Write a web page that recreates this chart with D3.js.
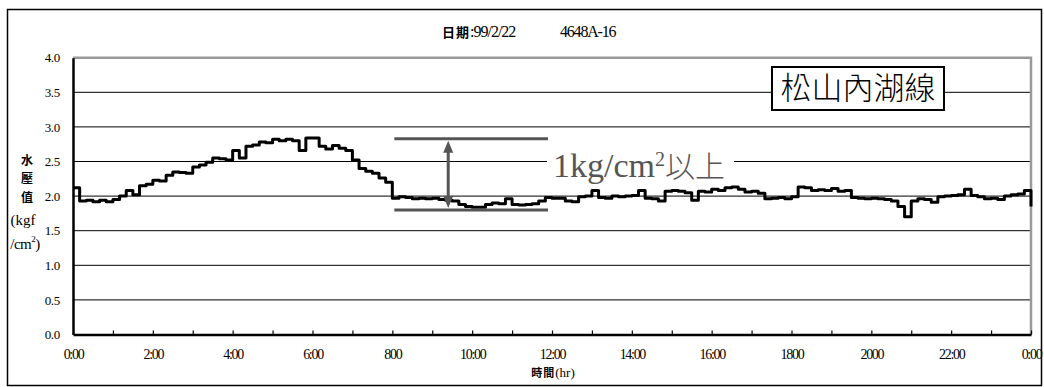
<!DOCTYPE html>
<html>
<head>
<meta charset="utf-8">
<script src="https://cdn.jsdelivr.net/npm/d3@7"></script>
<style>
  html, body { margin: 0; padding: 0; background: #fff; }
  svg { display: block; }
</style>
</head>
<body>
<div id="chart"><svg width="1044" height="387"></svg></div>
<script>
// pressure readings every 10 minutes, 0:00 -> 24:00
const PRESSURE = [
  2.12, 1.93, 1.94, 1.92, 1.94, 1.92, 1.95, 2.00, 2.08, 2.02,
  2.15, 2.17, 2.23, 2.22, 2.30, 2.35, 2.34, 2.33, 2.42, 2.45,
  2.49, 2.55, 2.54, 2.52, 2.66, 2.55, 2.72, 2.74, 2.78, 2.77,
  2.82, 2.80, 2.82, 2.80, 2.66, 2.84, 2.84, 2.72, 2.68, 2.73,
  2.69, 2.66, 2.52, 2.40, 2.36, 2.33, 2.26, 2.20, 1.97, 1.99,
  1.98, 1.96, 1.97, 1.96, 1.97, 1.95, 1.94, 1.93, 1.88, 1.85,
  1.84, 1.84, 1.88, 1.90, 1.89, 1.96, 1.88, 1.87, 1.88, 1.89,
  1.93, 1.98, 1.97, 1.97, 1.93, 1.92, 1.99, 2.00, 2.08, 1.98,
  1.97, 2.00, 1.99, 2.00, 2.01, 2.08, 1.97, 1.96, 1.93, 2.07,
  2.08, 2.07, 2.05, 1.94, 2.07, 2.06, 2.10, 2.08, 2.12, 2.13,
  2.10, 2.06, 2.07, 2.04, 1.96, 1.97, 1.98, 1.96, 1.99, 2.13,
  2.12, 2.08, 2.09, 2.08, 2.11, 2.07, 2.08, 1.98, 1.97, 1.96,
  1.97, 1.96, 1.95, 1.93, 1.85, 1.70, 1.93, 1.96, 1.95, 1.91,
  1.99, 2.00, 2.01, 2.02, 2.10, 2.01, 1.99, 1.96, 1.97, 1.95,
  2.00, 2.02, 2.03, 2.08, 1.85
];
const STEP_HOURS = 10 / 60;

const X_LABELS = ['0:00', '2:00', '4:00', '6:00', '800', '10:00', '12:00',
  '14:00', '16:00', '1800', '2000', '22:00', '0:00'];
const Y_TICKS = [0, 0.5, 1.0, 1.5, 2.0, 2.5, 3.0, 3.5, 4.0];

const TITLE_LABEL = '日期';
const TITLE_DATE = ':99/2/22';
const TITLE_ID = '4648A-16';
const LINE_NAME = '松山內湖線';
const Y_TITLE = ['水', '壓', '值', '(kgf'];
const X_TITLE = '時間';

// annotation: pressure drop band (hours, kgf/cm2)
const DROP_START = 8.05, DROP_END = 11.9, DROP_ARROW = 9.4;
const DROP_HIGH = 2.83, DROP_LOW = 1.80;

const data = PRESSURE.map((v, i) => ({ hour: i * STEP_HOURS, value: v }));

const SVG = d3.select('#chart svg');
const LEFT = 73, RIGHT = 1031, TOP = 57.7, BOTTOM = 334.5;
const SERIF = '"Liberation Serif", "Times New Roman", serif';
const CJK = '"Noto Sans CJK TC", sans-serif';

const X_SCALE = d3.scaleLinear().domain([0, 24]).range([LEFT, RIGHT]);
const Y_SCALE = d3.scaleLinear().domain([0, 4]).range([BOTTOM, TOP]);

// outer frame
SVG.append('rect')
  .attr('x', 7.5).attr('y', 9.5)
  .attr('width', 1034).attr('height', 376)
  .style('fill', 'none')
  .style('stroke', '#000')
  .style('stroke-width', 1.5);

// title
const TITLE = SVG.append('text')
  .attr('x', 442).attr('y', 37)
  .style('font-family', SERIF)
  .style('font-size', '16px')
  .style('letter-spacing', '-1px');
TITLE.append('tspan').text(TITLE_LABEL)
  .style('font-family', CJK)
  .style('font-weight', 'bold')
  .style('font-size', '13px')
  .style('letter-spacing', '1px');
TITLE.append('tspan').text(TITLE_DATE);
SVG.append('text')
  .attr('x', 560).attr('y', 37)
  .text(TITLE_ID)
  .style('font-family', SERIF)
  .style('font-size', '16px')
  .style('letter-spacing', '-1.2px');

// gridlines
SVG.append('g')
  .attr('id', 'grid')
  .selectAll('line')
  .data(Y_TICKS.filter(d => d > 0 && d < 4))
  .join('line')
  .attr('x1', LEFT).attr('x2', RIGHT)
  .attr('y1', d => Y_SCALE(d)).attr('y2', d => Y_SCALE(d))
  .style('stroke', '#000')
  .style('stroke-width', 1);

// plot frame (top and right, grey)
SVG.append('path')
  .attr('d', `M${LEFT},${Y_SCALE(4)}H${X_SCALE(24)}V${Y_SCALE(0)}`)
  .style('fill', 'none')
  .style('stroke', '#999')
  .style('stroke-width', 2.5);

// y axis
const Y_AXIS = d3.axisLeft(Y_SCALE)
  .tickValues(Y_TICKS)
  .tickFormat(d3.format('.1f'))
  .tickSize(0)
  .tickPadding(13);
const Y_AXIS_G = SVG.append('g')
  .attr('id', 'yAxis')
  .attr('transform', `translate(${LEFT},0)`);
Y_AXIS(Y_AXIS_G);
Y_AXIS_G.select('.domain').style('stroke', '#000').style('stroke-width', 2.5);
Y_AXIS_G.selectAll('text')
  .style('font-family', SERIF)
  .style('font-size', '13px')
  .style('letter-spacing', '-0.3px')
  .style('fill', '#000');

// x axis, hourly ticks pointing inward
const X_AXIS = d3.axisBottom(X_SCALE)
  .tickValues(d3.range(0, 25))
  .tickFormat(d => d % 2 === 0 ? X_LABELS[d / 2] : '')
  .tickSizeInner(-4)
  .tickSizeOuter(0)
  .tickPadding(15);
const X_AXIS_G = SVG.append('g')
  .attr('id', 'xAxis')
  .attr('transform', `translate(0,${BOTTOM})`);
X_AXIS(X_AXIS_G);
X_AXIS_G.select('.domain').style('stroke', '#000').style('stroke-width', 2.5);
X_AXIS_G.selectAll('.tick line').style('stroke', '#000').style('stroke-width', 1.2);
X_AXIS_G.selectAll('text')
  .style('font-family', SERIF)
  .style('font-size', '14px')
  .style('letter-spacing', '-1.3px')
  .style('fill', '#000');

// axis titles
SVG.append('g')
  .selectAll('text')
  .data(Y_TITLE)
  .join('text')
  .text(d => d)
  .attr('x', (d, i) => i < 3 ? 27 : 23)
  .attr('y', (d, i) => [165, 183, 202, 225][i])
  .style('text-anchor', 'middle')
  .style('font-family', (d, i) => i < 3 ? CJK : SERIF)
  .style('font-weight', (d, i) => i < 3 ? 'bold' : 'normal')
  .style('font-size', (d, i) => i < 3 ? '12px' : '15px');
const CM = SVG.append('text')
  .attr('x', 25).attr('y', 249)
  .style('text-anchor', 'middle')
  .style('font-family', SERIF)
  .style('font-size', '15px')
  .style('letter-spacing', '-0.5px');
CM.append('tspan').text('/cm');
CM.append('tspan').text('2').attr('dy', -7).style('font-size', '9px');
CM.append('tspan').text(')').attr('dy', 7);

const XT = SVG.append('text')
  .attr('x', 553).attr('y', 377)
  .style('text-anchor', 'middle')
  .style('font-family', CJK)
  .style('font-size', '11px');
XT.append('tspan').text(X_TITLE).style('font-weight', 'bold').style('letter-spacing', '1px');
XT.append('tspan').text('(hr)').style('font-family', SERIF).style('font-size', '13px');

// annotation text with white backing
SVG.append('rect')
  .attr('x', 547).attr('y', 149)
  .attr('width', 187).attr('height', 33)
  .style('fill', '#fff');
const NOTE = SVG.append('text')
  .attr('x', 553).attr('y', 177)
  .style('fill', '#555')
  .style('font-family', SERIF)
  .style('font-size', '34px');
NOTE.append('tspan').text('1kg/cm');
NOTE.append('tspan').text('2').attr('dy', -11).style('font-size', '20px');
NOTE.append('tspan').text('以上').attr('dy', 11)
  .style('font-family', CJK)
  .style('font-weight', '300')
  .style('font-size', '30px');

// data line
SVG.append('path')
  .datum(data)
  .attr('d', d3.line()
    .x(d => X_SCALE(d.hour))
    .y(d => Y_SCALE(d.value))
    .curve(d3.curveStepAfter))
  .style('fill', 'none')
  .style('stroke', '#000')
  .style('stroke-width', 3)
  .style('stroke-linejoin', 'round');

// drop annotation lines and double arrow
const ANN = SVG.append('g').attr('id', 'annotation');
ANN.selectAll('line')
  .data([DROP_HIGH, DROP_LOW])
  .join('line')
  .attr('x1', X_SCALE(DROP_START)).attr('x2', X_SCALE(DROP_END))
  .attr('y1', d => Y_SCALE(d)).attr('y2', d => Y_SCALE(d))
  .style('stroke', '#555')
  .style('stroke-width', 3);
const AX = X_SCALE(DROP_ARROW);
const AT = Y_SCALE(DROP_HIGH) + 2, AB = Y_SCALE(DROP_LOW) - 2;
ANN.append('line')
  .attr('x1', AX).attr('x2', AX)
  .attr('y1', AT + 10).attr('y2', AB - 10)
  .style('stroke', '#555')
  .style('stroke-width', 3);
ANN.append('path')
  .attr('d', `M${AX},${AT}l-5,12h10z M${AX},${AB}l-5,-12h10z`)
  .style('fill', '#555');

// line name box
SVG.append('rect')
  .attr('x', 772).attr('y', 67)
  .attr('width', 172).attr('height', 43)
  .style('fill', '#fff')
  .style('stroke', '#000')
  .style('stroke-width', 2);
SVG.append('text')
  .attr('x', 858).attr('y', 99)
  .text(LINE_NAME)
  .style('text-anchor', 'middle')
  .style('font-family', CJK)
  .style('font-weight', '300')
  .style('font-size', '31px');
</script>
</body>
</html>
